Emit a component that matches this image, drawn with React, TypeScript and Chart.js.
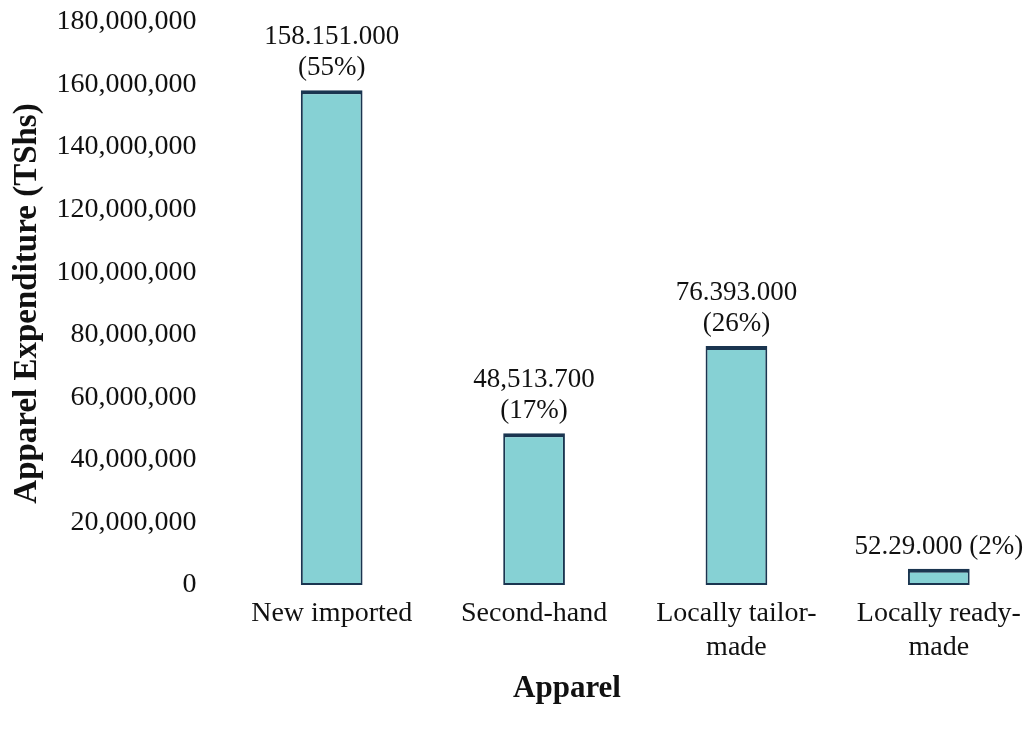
import React, { useEffect, useRef } from "react";
import { Chart, registerables } from "chart.js";

Chart.register(...registerables);

const categories: string[][] = [
  ["New imported"],
  ["Second-hand"],
  ["Locally tailor-", "made"],
  ["Locally ready-", "made"],
];
const expenditure: number[] = [158151000, 48513700, 76393000, 5229000];
const valueLabels: string[][] = [
  ["158.151.000", "(55%)"],
  ["48,513.700", "(17%)"],
  ["76.393.000", "(26%)"],
  ["52.29.000 (2%)"],
];
const yMin = 0;
const yMax = 180000000;
const yStep = 20000000;
const yTitle = "Apparel Expenditure (TShs)";
const xTitle = "Apparel";

const FONT = "'Liberation Serif', 'Times New Roman', serif";

const valueLabelPlugin = {
  id: "valueLabels",
  afterDatasetsDraw(chart: any) {
    const ctx = chart.ctx;
    const meta = chart.getDatasetMeta(0);
    ctx.save();
    ctx.font = `27px ${FONT}`;
    ctx.fillStyle = "#111";
    ctx.textAlign = "center";
    ctx.textBaseline = "middle";
    meta.data.forEach((bar: any, i: number) => {
      const lines = valueLabels[i] || [];
      const n = lines.length;
      lines.forEach((line, j) => {
        const y = bar.y - 22 - (n - 1 - j) * 31;
        ctx.fillText(line, bar.x, y);
      });
    });
    ctx.restore();
  },
};

const xTitlePlugin = {
  id: "xTitle",
  afterDraw(chart: any) {
    const ctx = chart.ctx;
    ctx.save();
    ctx.font = `bold 31px ${FONT}`;
    ctx.fillStyle = "#111";
    ctx.textAlign = "center";
    ctx.textBaseline = "middle";
    ctx.fillText(xTitle, 567, 689);
    ctx.restore();
  },
};

export default function App() {
  const ref = useRef<HTMLCanvasElement | null>(null);
  useEffect(() => {
    if (!ref.current) return;
    const chart = new Chart(ref.current, {
      type: "bar",
      data: {
        labels: categories,
        datasets: [
          {
            data: expenditure,
            backgroundColor: "#86d1d4",
            borderColor: "#1a3550",
            borderWidth: { top: 4, left: 2, right: 2, bottom: 2 },
            borderSkipped: false,
            barPercentage: 0.305,
            categoryPercentage: 1,
          },
        ],
      },
      options: {
        responsive: false,
        animation: false,
        devicePixelRatio: 1,
        layout: { padding: { top: 22, left: 0, right: 0, bottom: 0 } },
        plugins: {
          legend: { display: false },
          tooltip: { enabled: false },
        },
        scales: {
          x: {
            grid: { display: false, drawTicks: false },
            border: { display: false },
            ticks: {
              font: { family: FONT, size: 28 },
              color: "#111",
              padding: 12,
              maxRotation: 0,
              autoSkip: false,
            },
            afterFit: (scale: any) => {
              scale.height = 150;
              scale.paddingLeft = 0;
              scale.paddingRight = 0;
            },
          },
          y: {
            min: yMin,
            max: yMax,
            grid: { display: false, drawTicks: false },
            border: { display: false },
            ticks: {
              stepSize: yStep,
              font: { family: FONT, size: 28 },
              color: "#111",
              padding: 34,
              callback: (v: any) => Number(v).toLocaleString("en-US"),
            },
            title: {
              display: true,
              text: yTitle,
              font: { family: FONT, size: 33, weight: "bold" },
              color: "#111",
              padding: { top: 8, bottom: 0 },
            },
            afterFit: (scale: any) => {
              scale.width = 230.5;
              scale.paddingTop = 0;
              scale.paddingBottom = 0;
            },
          },
        },
      },
      plugins: [valueLabelPlugin, xTitlePlugin],
    } as any);
    return () => chart.destroy();
  }, []);

  return (
    <div
      style={{
        position: "fixed",
        left: 0,
        top: 0,
        width: 1028,
        height: 735,
        overflow: "hidden",
        background: "#fff",
      }}
    >
      <canvas
        ref={ref}
        width={1040}
        height={735}
        style={{ position: "absolute", left: 0, top: 0, width: 1040, height: 735 }}
      />
    </div>
  );
}
